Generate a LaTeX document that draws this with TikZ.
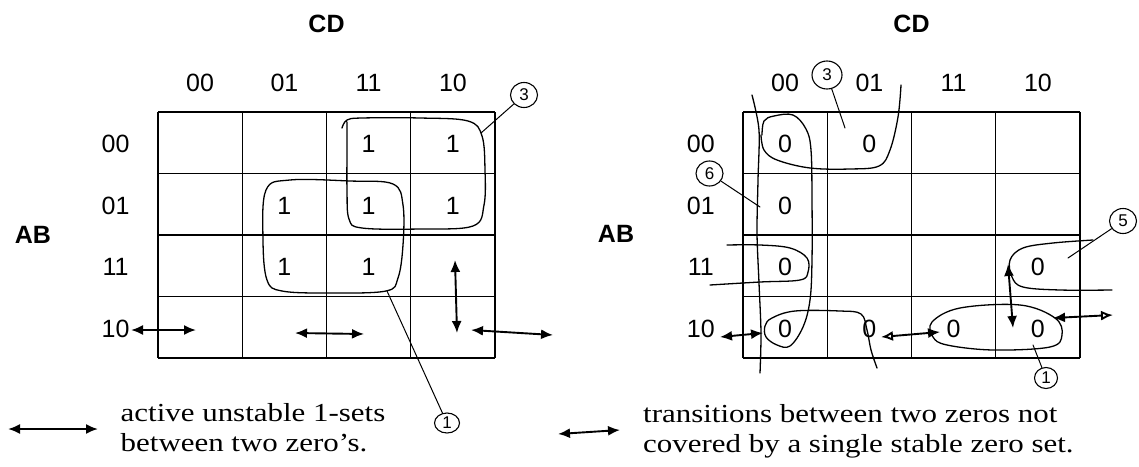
\documentclass[tikz,border=0pt]{standalone}
\usepackage{fontspec}
\setmainfont{Liberation Serif}
\newfontfamily\lblfont{Liberation Sans}
\newfontfamily\legfont[FakeStretch=1.19]{Liberation Serif}
\usetikzlibrary{arrows.meta,shapes.geometric}
\tikzset{
  ftip/.tip={Latex[length=12pt,width=10pt]},
  otip/.tip={Latex[open,length=12pt,width=10pt]}
}
\begin{document}
\begin{tikzpicture}[x=1pt,y=-1pt,
  gridline/.style={line width=1.3pt},
  lbl/.style={font=\lblfont\fontsize{25}{25}\selectfont, inner sep=0pt},
  hdr/.style={font=\lblfont\bfseries\fontsize{25}{25}\selectfont, inner sep=0pt},
  hand/.style={line width=1.3pt, line cap=round, line join=round},
  arr/.style={line width=1.9pt},
  tag/.style={draw, ellipse, line width=1.1pt, minimum width=27pt, minimum height=25pt, inner sep=0pt, font=\lblfont\fontsize{17}{17}\selectfont},
  legend/.style={font=\legfont\fontsize{26}{30}\selectfont, inner sep=0pt, anchor=base west}
]
\useasboundingbox (0,0) rectangle (1139,466);

% ---------------- grids ----------------
\foreach \i in {0,...,4} {
  \draw[gridline] ({158+84.25*\i},112) -- ({158+84.25*\i},358);
  \draw[gridline] (158,{112+61.5*\i}) -- (495,{112+61.5*\i});
  \draw[gridline] ({743+84.25*\i},112) -- ({743+84.25*\i},358);
  \draw[gridline] (743,{112+61.5*\i}) -- (1080,{112+61.5*\i});
}

% ---------------- headers ----------------
\node[hdr] (cdL) at (326.5,23.5) {CD};
\node[hdr] (abL) at (33,235) {AB};
\node[hdr] (cdR) at (911.5,23.5) {CD};
\node[hdr] (abR) at (616,234) {AB};

\node[lbl] (cl00) at (200.1,83) {00};
\node[lbl] (cl01) at (284.4,83) {01};
\node[lbl] (cl11) at (368.6,83) {11};
\node[lbl] (cl10) at (452.9,83) {10};
\node[lbl] (rl00) at (115.6,144) {00};
\node[lbl] (rl01) at (115.6,205.5) {01};
\node[lbl] (rl11) at (115.6,267) {11};
\node[lbl] (rl10) at (115.6,328.5) {10};

\node[lbl] (cr00) at (785.1,83) {00};
\node[lbl] (cr01) at (869.4,83) {01};
\node[lbl] (cr11) at (953.6,83) {11};
\node[lbl] (cr10) at (1037.9,83) {10};
\node[lbl] (rr00) at (700.8,144) {00};
\node[lbl] (rr01) at (700.8,205.5) {01};
\node[lbl] (rr11) at (700.8,267) {11};
\node[lbl] (rr10) at (700.8,328.5) {10};

% ---------------- left map values ----------------
\node[lbl] (a1) at (368.6,144) {1};
\node[lbl] (a2) at (452.9,144) {1};
\node[lbl] (a3) at (284.4,205.5) {1};
\node[lbl] (a4) at (368.6,205.5) {1};
\node[lbl] (a5) at (452.9,205.5) {1};
\node[lbl] (a6) at (284.4,267) {1};
\node[lbl] (a7) at (368.6,267) {1};

% ---------------- right map values ----------------
\node[lbl] (b1) at (785.1,144) {0};
\node[lbl] (b2) at (869.4,144) {0};
\node[lbl] (b3) at (785.1,205.5) {0};
\node[lbl] (b4) at (785.1,267) {0};
\node[lbl] (b5) at (1037.9,267) {0};
\node[lbl] (b6) at (785.1,328.5) {0};
\node[lbl] (b7) at (869.4,328.5) {0};
\node[lbl] (b8) at (953.6,328.5) {0};
\node[lbl] (b9) at (1037.9,328.5) {0};

% ---------------- left map loops ----------------
\draw[hand] plot[smooth, tension=0.6] coordinates {(342,128) (347,120) (362,118) (420,118) (468,121) (482,136) (485,170) (484,205) (473,226) (420,229) (362,228) (349,219) (347,190) (347,150) (347,122)};
\draw[hand] plot[smooth cycle, tension=0.6] coordinates {(266,190) (290,180) (350,181) (393,184) (403,205) (403,245) (398,278) (386,291) (330,293) (282,291) (267,280) (263,240)};

\node[tag] (t3) at (524,95) {3};
\node[tag, minimum width=25pt, minimum height=20pt] (t1) at (447,423) {1};
\coordinate (p3) at (481,133);
\coordinate (p1) at (387,291);
\draw[hand, line width=1pt] (t3) -- (p3);
\draw[hand, line width=1pt] (t1) -- (p1);

% ---------------- left map arrows ----------------
\coordinate (la1) at (131,330); \coordinate (lb1) at (196,330);
\coordinate (la2) at (295,333); \coordinate (lb2) at (364,334);
\coordinate (la3) at (455,260); \coordinate (lb3) at (457,333);
\coordinate (la4) at (471,330); \coordinate (lb4) at (553,335);
\draw[arr, ftip-ftip] (la1) -- (lb1);
\draw[arr, ftip-ftip] (la2) -- (lb2);
\draw[arr, ftip-ftip] (la3) -- (lb3);
\draw[arr, ftip-ftip] (la4) -- (lb4);

% ---------------- right map loops ----------------
% long vertical stroke at the left of column 00
\draw[hand] plot[smooth, tension=0.5] coordinates {(752,95) (759,130) (758,180) (757,233) (759,283) (761,333) (760,373)};
% loop 3 (row 00, columns 00-01, wrapping over the top)
\draw[hand] plot[smooth, tension=0.6] coordinates {(761,135) (764,150) (777,160) (810,168) (850,169) (879,166) (890,150) (898,117) (901,85)};
% loop 6 (column 00) joined to the row-10 piece
\draw[hand] plot[smooth, tension=0.6] coordinates {(762,135) (764,121) (774,116) (793,115) (806,129) (811,150) (812,200) (812,260) (810,300) (803,327) (790,346) (777,345) (766,337) (765,326) (772,318) (795,311) (840,311) (861,314) (867,330) (871,350) (877,368)};
% row 11 pieces (loop 5 wrap)
\draw[hand] plot[smooth, tension=0.6] coordinates {(727,245) (760,245) (790,248) (807,258) (808,272) (800,280) (760,282) (710,285)};
\draw[hand] plot[smooth, tension=0.6] coordinates {(1093,240) (1053,243) (1023,248) (1010,260) (1012,277) (1023,287) (1060,290) (1112,290)};
% loop 1 (row 10, columns 11-10)
\draw[hand] plot[smooth cycle, tension=0.6] coordinates {(932,322) (960,308) (1020,305) (1055,318) (1062,335) (1050,347) (993,350) (947,345) (933,337)};

\node[tag, minimum width=30pt, minimum height=28pt] (t3r) at (827,75) {3};
\node[tag] (t6) at (709.5,173.5) {6};
\node[tag] (t5) at (1123,221) {5};
\node[tag, minimum width=23pt, minimum height=21pt] (t1r) at (1046,378) {1};
\coordinate (q3) at (845,128);
\coordinate (q6) at (760,207);
\coordinate (q5) at (1068,258);
\coordinate (q1) at (1033,345);
\draw[hand, line width=1pt] (t3r) -- (q3);
\draw[hand, line width=1pt] (t6) -- (q6);
\draw[hand, line width=1pt] (t5) -- (q5);
\draw[hand, line width=1pt] (t1r) -- (q1);

% ---------------- right map arrows ----------------
\coordinate (ra1) at (720,337); \coordinate (rb1) at (763,333);
\coordinate (ra2) at (881,337); \coordinate (rb2) at (940,332);
\coordinate (ra3) at (1008,264); \coordinate (rb3) at (1013,328);
\coordinate (ra4) at (1053,318); \coordinate (rb4) at (1113,315);
\draw[arr, ftip-ftip] (ra1) -- (rb1);
\draw[arr, otip-ftip] (ra2) -- (rb2);
\draw[arr, ftip-ftip] (ra3) -- (rb3);
\draw[arr, ftip-otip] (ra4) -- (rb4);

% ---------------- legends ----------------
\coordinate (ka) at (8,429); \coordinate (kb) at (98,429);
\draw[arr, ftip-ftip] (ka) -- (kb);
\node[legend] (leg1a) at (120.5,421.7) {active unstable 1-sets};
\node[legend] (leg1b) at (120.5,451.7) {between two zero’s.};

\coordinate (kc) at (558,434); \coordinate (kd) at (620,430);
\draw[arr, ftip-ftip] (kc) -- (kd);
\node[legend] (leg2a) at (643,422.7) {transitions between two zeros not};
\node[legend] (leg2b) at (643,452.7) {covered by a single stable zero set.};
\end{tikzpicture}
\end{document}
